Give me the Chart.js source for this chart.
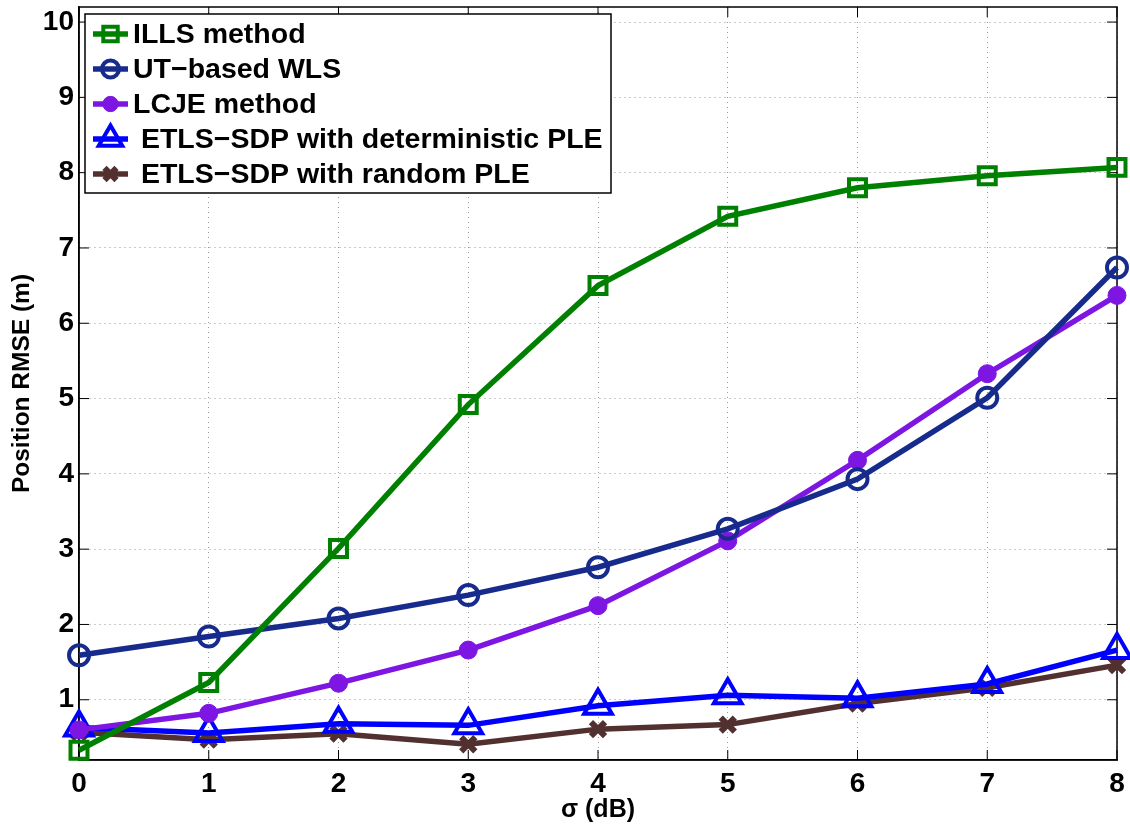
<!DOCTYPE html>
<html>
<head>
<meta charset="utf-8">
<script src="https://cdn.jsdelivr.net/npm/chart.js@4/dist/chart.umd.min.js"></script>
<style>
  html, body { margin: 0; padding: 0; background: #fff; }
  #wrap { width: 1130px; height: 825px; }
</style>
</head>
<body>
<div id="wrap"><canvas id="rmseChart" width="1130" height="825"></canvas></div>
<script>
// sigma (dB) on the x axis
const sigma = [0, 1, 2, 3, 4, 5, 6, 7, 8];
const yTicks = [1, 2, 3, 4, 5, 6, 7, 8, 9, 10];

// position RMSE (m)
const illsMethod = [0.33, 1.23, 3.01, 4.92, 6.50, 7.42, 7.80, 7.96, 8.07];
const utWls      = [1.59, 1.84, 2.08, 2.39, 2.76, 3.27, 3.93, 5.01, 6.74];
const lcjeMethod = [0.60, 0.82, 1.22, 1.66, 2.25, 3.11, 4.18, 5.33, 6.37];
const etlsDet    = [0.63, 0.56, 0.68, 0.66, 0.92, 1.06, 1.02, 1.21, 1.66];
const etlsRand   = [0.57, 0.47, 0.55, 0.41, 0.61, 0.67, 0.95, 1.16, 1.46];

const legendNames = ['ILLS method', 'UT\u2212based WLS', 'LCJE method',
  ' ETLS\u2212SDP with deterministic PLE', ' ETLS\u2212SDP with random PLE'];

const FONT = '"Liberation Sans", Arial, Helvetica, sans-serif';

function pts(ys) {
  return sigma.map((x, i) => ({ x: x, y: ys[i] }));
}

function series(label, ys, color, style, radius, fill, bw) {
  return {
    label: label,
    data: pts(ys),
    borderColor: color,
    backgroundColor: color,
    borderWidth: 5.5,
    pointStyle: style,
    pointRadius: radius,
    pointHoverRadius: radius,
    pointBorderWidth: bw,
    pointBorderColor: color,
    pointBackgroundColor: fill,
    tension: 0,
    clip: false
  };
}

const datasets = [
  series(legendNames[0], illsMethod, '#008000', 'rect', 12, 'rgba(0,0,0,0)', 4),
  series(legendNames[1], utWls, '#172b8c', 'circle', 10, 'rgba(0,0,0,0)', 4),
  series(legendNames[2], lcjeMethod, '#7d16e3', 'circle', 9, '#7d16e3', 1),
  series(legendNames[3], etlsDet, '#0000ff', 'triangle', 16, 'rgba(0,0,0,0)', 4),
  series(legendNames[4], etlsRand, '#523030', 'crossRot', 10, '#523030', 6)
];

// box around the axes with inward tick marks, like the original figure
const frame = {
  id: 'frame',
  beforeDatasetsDraw(chart) {
    const { ctx, chartArea: a, scales } = chart;
    ctx.save();
    ctx.strokeStyle = '#000';
    ctx.lineWidth = 1.5;
    ctx.strokeRect(a.left, a.top, a.right - a.left, a.bottom - a.top);
    ctx.lineWidth = 1;
    ctx.beginPath();
    sigma.forEach(v => {
      const px = scales.x.getPixelForValue(v);
      ctx.moveTo(px, a.bottom); ctx.lineTo(px, a.bottom - 10);
      ctx.moveTo(px, a.top); ctx.lineTo(px, a.top + 10);
    });
    yTicks.forEach(v => {
      const py = scales.y.getPixelForValue(v);
      ctx.moveTo(a.left, py); ctx.lineTo(a.left + 10, py);
      ctx.moveTo(a.right, py); ctx.lineTo(a.right - 10, py);
    });
    ctx.stroke();
    ctx.restore();
  }
};

// legend box in the upper left of the axes
const boxLegend = {
  id: 'boxLegend',
  afterDraw(chart) {
    const ctx = chart.ctx;
    const a = chart.chartArea;
    const x0 = a.left + 6, y0 = a.top + 7, w = 526, h = 179;
    ctx.save();
    ctx.fillStyle = '#fff';
    ctx.fillRect(x0, y0, w, h);
    ctx.strokeStyle = '#000';
    ctx.lineWidth = 1.5;
    ctx.strokeRect(x0, y0, w, h);
    chart.data.datasets.forEach((ds, i) => {
      const cy = y0 + 20 + i * 35;
      ctx.strokeStyle = ds.borderColor;
      ctx.lineWidth = 5.5;
      ctx.beginPath();
      ctx.moveTo(x0 + 8, cy);
      ctx.lineTo(x0 + 43, cy);
      ctx.stroke();
      ctx.fillStyle = ds.pointBackgroundColor;
      ctx.strokeStyle = ds.pointBorderColor;
      ctx.lineWidth = ds.pointBorderWidth;
      Chart.helpers.drawPoint(ctx, { pointStyle: ds.pointStyle, rotation: 0, radius: ds.pointRadius * 0.85, borderWidth: ds.pointBorderWidth }, x0 + 25.5, cy);
      ctx.fillStyle = '#000';
      ctx.font = 'bold 28.5px ' + FONT;
      ctx.textBaseline = 'middle';
      ctx.textAlign = 'left';
      ctx.fillText(ds.label, x0 + 48, cy + 1);
    });
    ctx.restore();
  }
};

const ctx = document.getElementById('rmseChart').getContext('2d');
const rmseChart = new Chart(ctx, {
  type: 'line',
  data: { datasets: datasets },
  options: {
    responsive: false,
    animation: false,
    layout: { autoPadding: false, padding: { left: 0, top: 7, right: 13, bottom: 0 } },
    plugins: {
      legend: { display: false },
      tooltip: { enabled: false }
    },
    scales: {
      x: {
        type: 'linear',
        min: 0,
        max: 8,
        ticks: {
          stepSize: 1,
          color: '#000',
          padding: 7,
          font: { family: FONT, size: 28, weight: 'bold' }
        },
        grid: { color: '#999', drawTicks: false, lineWidth: 1 },
        border: { color: '#000', width: 1.5, dash: [1, 4] },
        title: {
          display: true,
          text: '\u03c3 (dB)',
          color: '#000',
          padding: { top: 0, bottom: 0 },
          font: { family: FONT, size: 25, weight: 'bold' }
        },
        afterFit(scale) {
          scale.height = 65;
          scale.paddingLeft = 0;
          scale.paddingRight = 0;
        }
      },
      y: {
        type: 'linear',
        min: 0.2,
        max: 10.2,
        afterBuildTicks(scale) {
          scale.ticks = yTicks.map(v => ({ value: v }));
        },
        ticks: {
          color: '#000',
          padding: 5,
          font: { family: FONT, size: 28, weight: 'bold' }
        },
        grid: { color: '#999', drawTicks: false, lineWidth: 1 },
        border: { color: '#000', width: 1.5, dash: [1, 4] },
        title: {
          display: true,
          text: 'Position RMSE (m)',
          color: '#000',
          padding: { top: 8, bottom: 0 },
          font: { family: FONT, size: 24.5, weight: 'bold' }
        },
        afterFit(scale) {
          scale.width = 79;
          scale.paddingTop = 0;
          scale.paddingBottom = 0;
        }
      }
    }
  },
  plugins: [frame, boxLegend]
});
</script>
</body>
</html>
